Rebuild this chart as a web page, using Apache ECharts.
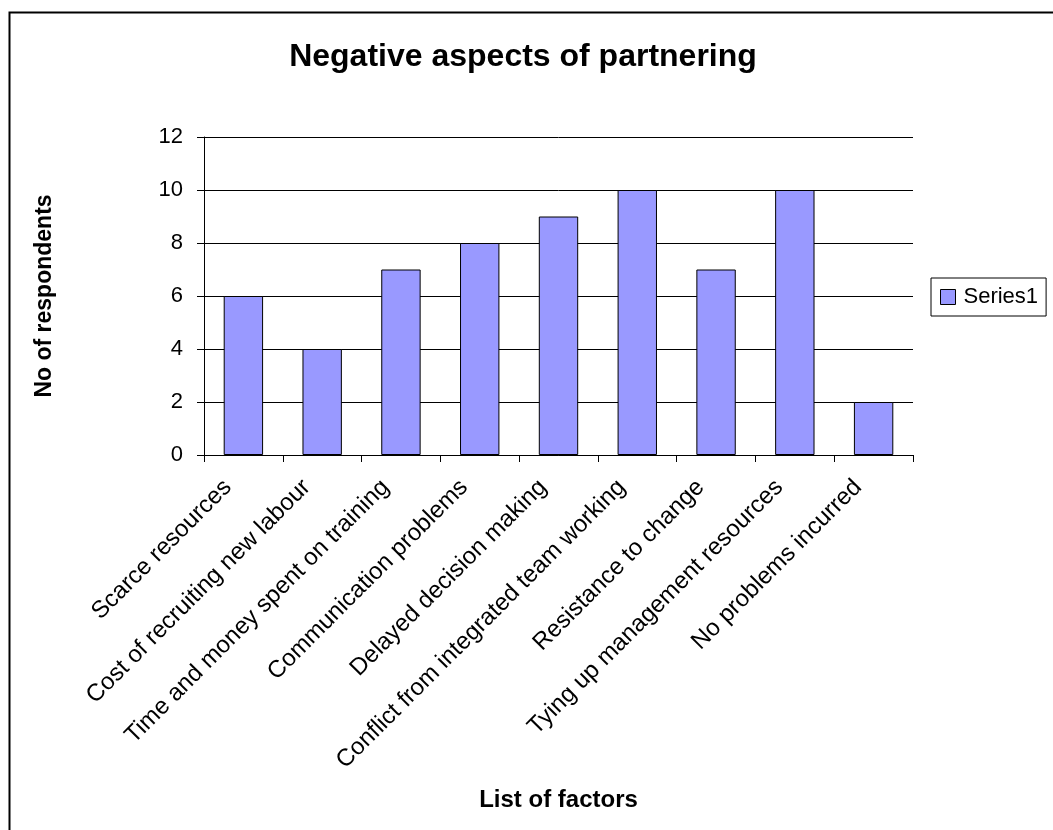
<!DOCTYPE html>
<html>
<head>
<meta charset="utf-8">
<script src="https://cdn.jsdelivr.net/npm/echarts@6/dist/echarts.min.js"></script>
<style>
  html, body { margin: 0; padding: 0; background: #fff; }
  #chart { width: 1053px; height: 830px; }
</style>
</head>
<body>
<div id="chart"></div>
<script>
const factors = [
  'Scarce resources',
  'Cost of recruiting new labour',
  'Time and money spent on training',
  'Communication problems',
  'Delayed decision making',
  'Conflict from integrated team working',
  'Resistance to change',
  'Tying up management resources',
  'No problems incurred'
]
const respondents = [6, 4, 7, 8, 9, 10, 7, 10, 2]
const seriesName = 'Series1'

const font = 'Liberation Sans, Arial, sans-serif'
const chart = echarts.init(document.getElementById('chart'))
const option = {
  animation: false,
  backgroundColor: '#fff',
  textStyle: { fontFamily: font, color: '#000' },
  title: {
    text: 'Negative aspects of partnering',
    left: 518,
    top: 36,
    textAlign: 'center',
    textStyle: { fontSize: 32, fontWeight: 'bold', color: '#000', fontFamily: font }
  },
  graphic: [
    {
      type: 'rect',
      left: 7,
      top: 10,
      shape: { x: 0, y: 0, width: 1100, height: 900 },
      style: { fill: 'none', stroke: '#000', lineWidth: 2 }
    }
  ],
  legend: {
    data: [seriesName],
    left: 931,
    top: 278,
    orient: 'vertical',
    icon: 'rect',
    itemWidth: 15,
    itemHeight: 15,
    padding: [8, 8, 8, 9],
    borderColor: '#000',
    borderWidth: 1,
    textStyle: { fontSize: 22, color: '#000', fontFamily: font, padding: [0, 0, 0, 3] },
    itemStyle: { borderColor: '#000', borderWidth: 1 }
  },
  grid: { left: 204, right: 140, top: 137, bottom: 375 },
  xAxis: {
    type: 'category',
    data: factors,
    name: 'List of factors',
    nameLocation: 'middle',
    nameGap: 333,
    nameTextStyle: { fontSize: 24, fontWeight: 'bold', color: '#000', fontFamily: font },
    axisLine: { lineStyle: { color: '#000', width: 1 } },
    axisTick: { show: true, length: 7, lineStyle: { color: '#000' } },
    axisLabel: {
      rotate: 45,
      fontSize: 24,
      color: '#000',
      margin: 13,
      interval: 0,
      padding: [0, 22, 0, 0],
      fontFamily: font
    }
  },
  yAxis: {
    type: 'value',
    min: 0,
    max: 12,
    interval: 2,
    name: 'No of respondents',
    nameLocation: 'middle',
    nameRotate: 90,
    nameGap: 148,
    nameTextStyle: { fontSize: 23, fontWeight: 'bold', color: '#000', fontFamily: font },
    axisLine: { show: true, lineStyle: { color: '#000', width: 1 } },
    axisTick: { show: true, length: 7, lineStyle: { color: '#000' } },
    axisLabel: { fontSize: 22, color: '#000', margin: 21, fontFamily: font },
    splitLine: { show: true, lineStyle: { color: '#000', width: 1 } }
  },
  series: [
    {
      name: seriesName,
      type: 'bar',
      data: respondents,
      barWidth: '50%',
      itemStyle: { color: '#9999FF', borderColor: '#000', borderWidth: 1 }
    }
  ]
}
chart.setOption(option)
</script>
</body>
</html>
